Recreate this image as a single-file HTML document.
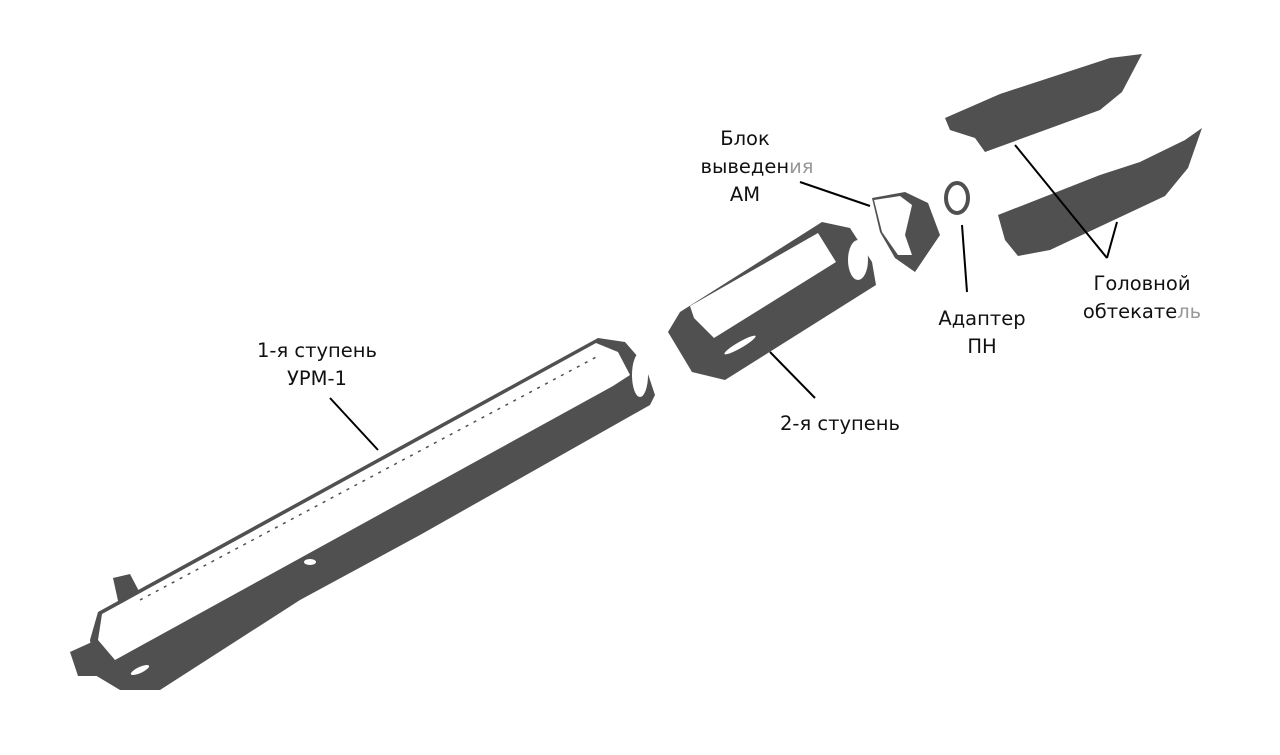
<!DOCTYPE html>
<html><head><meta charset="utf-8"><style>
html,body{margin:0;padding:0;background:#fff;width:1280px;height:755px;overflow:hidden}
text{font-family:"DejaVu Sans","Liberation Sans",sans-serif;font-size:19.5px;fill:#111}
</style></head><body>
<svg width="1280" height="755" viewBox="0 0 1280 755" xmlns="http://www.w3.org/2000/svg">
<g fill="#505050">
<polygon points="98,612 598,338 625,342 645,365 655,395 650,405 420,535 300,600 160,690 120,690 95,675 90,640"/>
<polygon points="70,652 92,642 100,676 78,676"/>
<polygon points="113,578 130,574 142,597 120,610"/>
<polygon points="140,672 162,668 158,690 150,690"/>
<polygon points="680,312 822,222 850,228 872,262 876,285 725,380 692,372 668,332"/>
<polygon points="872,198 905,192 928,203 940,235 915,272 895,258 880,232"/>
<polygon points="945,118 1000,94 1110,58 1142,54 1122,92 1100,110 985,152 975,138 950,130"/>
<polygon points="998,215 1100,175 1140,162 1185,140 1202,128 1188,168 1165,196 1050,250 1018,256 1005,240"/>
</g>
<g fill="#fff">
<polygon points="102,614 596,343 618,352 630,375 613,386 115,660 98,640"/>
<polygon points="690,306 818,233 836,262 714,338 694,318"/>
<polygon points="874,200 900,196 912,205 905,235 912,255 898,255 882,232"/>
<ellipse cx="640" cy="375" rx="8" ry="22"/>
<ellipse cx="858" cy="260" rx="10" ry="20"/>
<ellipse cx="740" cy="345" rx="18" ry="3" transform="rotate(-30 740 345)"/>
<ellipse cx="310" cy="562" rx="6" ry="3"/>
<ellipse cx="140" cy="670" rx="10" ry="3" transform="rotate(-25 140 670)"/>
</g>
<g stroke="#505050" stroke-width="1.5" stroke-dasharray="3 6" fill="none">
<line x1="140" y1="600" x2="600" y2="355"/>
</g>
<ellipse cx="957" cy="198" rx="11" ry="15" fill="none" stroke="#505050" stroke-width="4"/>
<g stroke="#000" stroke-width="2">
<line x1="330" y1="398" x2="378" y2="450"/>
<line x1="770" y1="352" x2="815" y2="398"/>
<line x1="800" y1="182" x2="870" y2="206"/>
<line x1="962" y1="225" x2="967" y2="292"/>
<line x1="1015" y1="145" x2="1107" y2="258"/>
<line x1="1117" y1="222" x2="1107" y2="258"/>
</g>
<text x="317" y="357" text-anchor="middle">1-я ступень</text>
<text x="317" y="385" text-anchor="middle">УРМ-1</text>
<text x="840" y="430" text-anchor="middle">2-я ступень</text>
<text x="745" y="145" text-anchor="middle">Блок</text>
<text x="757" y="173" text-anchor="middle">выведен<tspan fill="#999">ия</tspan></text>
<text x="745" y="201" text-anchor="middle">АМ</text>
<text x="982" y="325" text-anchor="middle">Адаптер</text>
<text x="982" y="353" text-anchor="middle">ПН</text>
<text x="1142" y="290" text-anchor="middle">Головной</text>
<text x="1142" y="318" text-anchor="middle">обтекате<tspan fill="#999">ль</tspan></text>
</svg>
</body></html>
